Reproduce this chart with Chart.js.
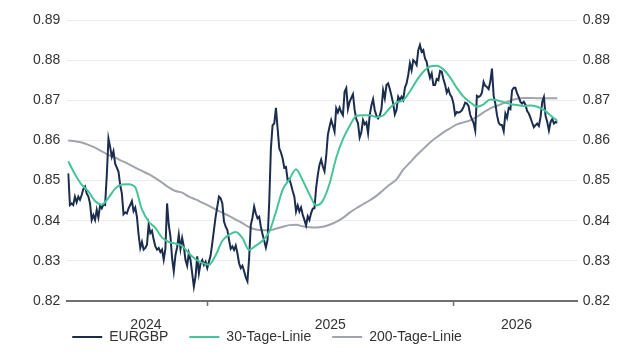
<!DOCTYPE html>
<html>
<head>
<meta charset="utf-8">
<script src="https://cdn.jsdelivr.net/npm/chart.js@4.4.1/dist/chart.umd.min.js"></script>
<style>
  html, body { margin: 0; padding: 0; background: #fff; }
</style>
</head>
<body>
<canvas id="chart" width="640" height="360"></canvas>
<script>
const DAY = 86400000;

// daily-ish EURGBP closes, one value every ~2.5 calendar days
const startDate = Date.UTC(2024, 5, 7, 12);
const stepDays = 2.49;
const eurgbp = [
  0.8518, 0.8439, 0.8443, 0.8439, 0.8460, 0.8446, 0.8460, 0.8452, 0.8464, 0.8479,
  0.8485, 0.8468, 0.8460, 0.8443, 0.8402, 0.8414, 0.8402, 0.8427, 0.8408, 0.8438,
  0.8431, 0.8441, 0.8439, 0.8513, 0.8605, 0.8584, 0.8559, 0.8573, 0.8542, 0.8532,
  0.8522, 0.8489, 0.8468, 0.8416, 0.8421, 0.8418, 0.8431, 0.8439, 0.8449, 0.8424,
  0.8433, 0.8410, 0.8365, 0.8332, 0.8347, 0.8328, 0.8332, 0.8340, 0.8390, 0.8369,
  0.8375, 0.8353, 0.8336, 0.8328, 0.8332, 0.8322, 0.8328, 0.8303, 0.8330, 0.8443,
  0.8390, 0.8361, 0.8307, 0.8274, 0.8314, 0.8334, 0.8365, 0.8330, 0.8357,
  0.8336, 0.8302, 0.8288, 0.8319, 0.8302, 0.8269, 0.8236, 0.8261, 0.8311, 0.8269,
  0.8294, 0.8302, 0.8290, 0.8298, 0.8282, 0.8298, 0.8313, 0.8344, 0.8377, 0.8410,
  0.8435, 0.8460, 0.8456, 0.8443, 0.8398, 0.8385, 0.8377, 0.8352, 0.8330, 0.8336,
  0.8327, 0.8338, 0.8319, 0.8294, 0.8282, 0.8288, 0.8274, 0.8259, 0.8249, 0.8307,
  0.8389, 0.8408, 0.8435, 0.8418, 0.8406, 0.8410, 0.8385, 0.8366, 0.8350, 0.8333,
  0.8352, 0.8447, 0.8580, 0.8638, 0.8642, 0.8681, 0.8630, 0.8580, 0.8570, 0.8555,
  0.8532, 0.8534, 0.8501, 0.8504, 0.8490, 0.8474, 0.8460, 0.8423,
  0.8438, 0.8423, 0.8433, 0.8415, 0.8402, 0.8388, 0.8411, 0.8402, 0.8419, 0.8430,
  0.8431, 0.8481, 0.8514, 0.8539, 0.8552, 0.8535, 0.8523, 0.8560, 0.8614, 0.8634,
  0.8651, 0.8637, 0.8622, 0.8680, 0.8670, 0.8682, 0.8670, 0.8663, 0.8721, 0.8730,
  0.8678, 0.8696, 0.8706, 0.8715, 0.8676, 0.8653, 0.8643, 0.8607, 0.8620, 0.8651,
  0.8640, 0.8645, 0.8618, 0.8663, 0.8687, 0.8703, 0.8676, 0.8662, 0.8655, 0.8662,
  0.8678, 0.8725, 0.8705, 0.8738, 0.8742, 0.8728, 0.8711, 0.8692, 0.8665, 0.8676,
  0.8709, 0.8701, 0.8709, 0.8701, 0.8731, 0.8742,
  0.8763, 0.8792, 0.8775, 0.8800, 0.8796, 0.8788, 0.8825, 0.8838, 0.8821, 0.8825,
  0.8804, 0.8796, 0.8773, 0.8756, 0.8767, 0.8738, 0.8738, 0.8753, 0.8750, 0.8773,
  0.8771, 0.8753, 0.8739, 0.8719, 0.8728, 0.8714, 0.8708, 0.8692, 0.8664, 0.8671,
  0.8669, 0.8671, 0.8675, 0.8683, 0.8694, 0.8692, 0.8686, 0.8664, 0.8653, 0.8644,
  0.8625, 0.8711, 0.8708, 0.8711, 0.8719, 0.8746, 0.8736, 0.8733, 0.8728, 0.8746,
  0.8779, 0.8711, 0.8692, 0.8663, 0.8644, 0.8639, 0.8638, 0.8623, 0.8667, 0.8656,
  0.8681, 0.8678, 0.8725, 0.8731, 0.8731, 0.8717, 0.8708, 0.8696, 0.8692, 0.8696,
  0.8689, 0.8673, 0.8667, 0.8656, 0.8644, 0.8633, 0.8638, 0.8642, 0.8636, 0.8658,
  0.8696, 0.8708, 0.8661, 0.8646, 0.8625, 0.8646, 0.8653, 0.8642, 0.8646, 0.8644,
];

// moving averages, one value every ~10 days from the same start
const maStepDays = 9.96;
const ma30 = [
  0.8548, 0.8516, 0.8490, 0.8473, 0.8449, 0.8440, 0.8457, 0.8480, 0.8490, 0.8491,
  0.8483, 0.8428, 0.8398, 0.8382, 0.8358, 0.8347, 0.8343, 0.8337, 0.8319, 0.8304,
  0.8295, 0.8290, 0.8314, 0.8350, 0.8365, 0.8372, 0.8357, 0.8327, 0.8338, 0.8350,
  0.8372, 0.8422, 0.8477, 0.8503, 0.8528, 0.8500, 0.8466, 0.8438, 0.8450, 0.8492,
  0.8557, 0.8603, 0.8636, 0.8661, 0.8663, 0.8663, 0.8658, 0.8662, 0.8681, 0.8694,
  0.8700, 0.8722, 0.8749, 0.8771, 0.8784, 0.8786, 0.8777, 0.8757, 0.8731, 0.8709,
  0.8695, 0.8684, 0.8690, 0.8702, 0.8700, 0.8695, 0.8691, 0.8688, 0.8686, 0.8687,
  0.8684, 0.8676, 0.8662, 0.8649,
];
const ma200 = [
  0.8600, 0.8598, 0.8595, 0.8589, 0.8582, 0.8573, 0.8564, 0.8557, 0.8549, 0.8541,
  0.8532, 0.8524, 0.8516, 0.8506, 0.8495, 0.8483, 0.8474, 0.8470, 0.8460, 0.8453,
  0.8445, 0.8437, 0.8428, 0.8420, 0.8412, 0.8403, 0.8394, 0.8384, 0.8378, 0.8376,
  0.8376, 0.8380, 0.8385, 0.8389, 0.8390, 0.8386, 0.8384, 0.8383, 0.8385, 0.8390,
  0.8397, 0.8407, 0.8420, 0.8431, 0.8441, 0.8451, 0.8462, 0.8476, 0.8490, 0.8503,
  0.8527, 0.8545, 0.8563, 0.8579, 0.8595, 0.8608, 0.8620, 0.8630, 0.8640, 0.8645,
  0.8650, 0.8659, 0.8670, 0.8680, 0.8686, 0.8693, 0.8699, 0.8704, 0.8706, 0.8706,
  0.8705, 0.8705, 0.8705, 0.8705,
];

const seriesNames = ['EURGBP', '30-Tage-Linie', '200-Tage-Linie'];
const yTicks = [0.82, 0.83, 0.84, 0.85, 0.86, 0.87, 0.88, 0.89];
const yearLabels = ['2024', '2025', '2026'];
const yearLabelDates = [Date.UTC(2024, 9, 1), Date.UTC(2025, 6, 2), Date.UTC(2026, 3, 5)];
const yearStarts = [Date.UTC(2025, 0, 1), Date.UTC(2026, 0, 1)];
const axisMin = Date.UTC(2024, 5, 6);
const axisMax = Date.UTC(2026, 6, 5);

const toPoints = (values, step) =>
  values.map((v, i) => ({x: startDate + i * step * DAY, y: v}));

Chart.defaults.font.family = '"Liberation Sans", Arial, sans-serif';
Chart.defaults.font.size = 14;
Chart.defaults.color = '#333';

// legend sits tight under the year labels and starts at the plot's left edge
const legendNudge = {
  id: 'legendNudge',
  afterLayout(chart) {
    const legend = chart.legend;
    legend.top = chart.chartArea.bottom + 8;
    legend.left = chart.chartArea.left + 5 - legend.options.labels.padding;
  },
};

new Chart(document.getElementById('chart'), {
  type: 'line',
  data: {
    datasets: [{
      label: seriesNames[0],
      data: toPoints(eurgbp, stepDays),
      borderColor: '#1b2d4f',
      backgroundColor: '#1b2d4f',
      borderWidth: 2,
      pointRadius: 0,
      tension: 0,
      order: 1,
    }, {
      label: seriesNames[1],
      data: toPoints(ma30, maStepDays),
      borderColor: '#45c495',
      backgroundColor: '#45c495',
      borderWidth: 2,
      pointRadius: 0,
      cubicInterpolationMode: 'monotone',
      order: 0,
    }, {
      label: seriesNames[2],
      data: toPoints(ma200, maStepDays),
      borderColor: '#a0a5ad',
      backgroundColor: '#a0a5ad',
      borderWidth: 2,
      pointRadius: 0,
      cubicInterpolationMode: 'monotone',
      order: 2,
    }],
  },
  plugins: [legendNudge],
  options: {
    responsive: false,
    animation: false,
    layout: {padding: {left: 26, right: 25, top: 20, bottom: 2}},
    plugins: {
      tooltip: {enabled: false},
      legend: {
        position: 'bottom',
        align: 'start',
        maxHeight: 24,
        labels: {
          usePointStyle: true,
          pointStyle: 'line',
          pointStyleWidth: 30,
          padding: 21,
          color: '#333',
          sort: (a, b) => a.datasetIndex - b.datasetIndex,
        },
      },
    },
    scales: {
      x: {
        type: 'linear',
        min: axisMin,
        max: axisMax,
        afterBuildTicks: (scale) => {
          scale.ticks = yearStarts.concat(yearLabelDates)
            .sort((a, b) => a - b)
            .map((value) => ({value}));
        },
        afterFit: (scale) => {
          scale.height = 33;
        },
        ticks: {
          autoSkip: false,
          maxRotation: 0,
          padding: 11,
          callback: (value) => {
            const k = yearLabelDates.indexOf(value);
            return k >= 0 ? yearLabels[k] : '';
          },
        },
        grid: {
          drawOnChartArea: false,
          tickLength: 5,
          tickWidth: 1.5,
          tickColor: (ctx) => (ctx.tick && yearStarts.includes(ctx.tick.value)) ?
            '#6f6f6f' : 'rgba(0,0,0,0)',
        },
        border: {color: '#6f6f6f', width: 2},
      },
      y: {
        position: 'left',
        min: 0.82,
        max: 0.89,
        afterBuildTicks: (scale) => {
          scale.ticks = yTicks.map((value) => ({value}));
        },
        ticks: {padding: 7, callback: (v) => v.toFixed(2)},
        grid: {color: '#ececec', drawTicks: false},
        border: {display: false},
      },
      y2: {
        position: 'right',
        display: true,
        min: 0.82,
        max: 0.89,
        afterBuildTicks: (scale) => {
          scale.ticks = yTicks.map((value) => ({value}));
        },
        ticks: {padding: 5, callback: (v) => v.toFixed(2)},
        grid: {drawOnChartArea: false, drawTicks: false},
        border: {display: false},
      },
    },
  },
});
</script>
</body>
</html>
